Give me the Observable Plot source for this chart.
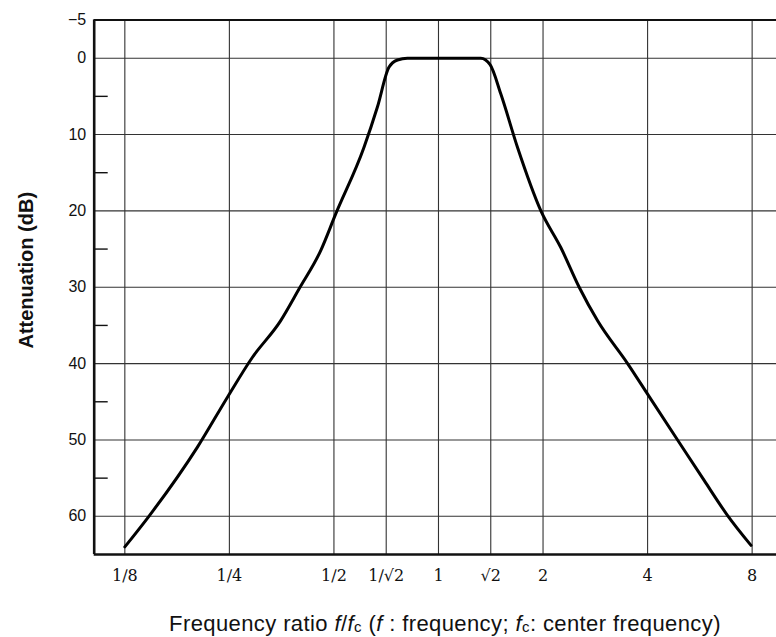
<!DOCTYPE html>
<html>
<head>
<meta charset="utf-8">
<script src="https://cdn.jsdelivr.net/npm/d3@7"></script>
<script src="https://cdn.jsdelivr.net/npm/@observablehq/plot@0.6"></script>
<style>
  html, body { margin: 0; padding: 0; background: #fff; }
  #xtitle {
    font-family: "Liberation Sans", Arial, sans-serif;
    font-size: 22px;
    letter-spacing: 0.4px;
    color: #111;
    line-height: 48px;
    height: 48px;
    padding-left: 114px;
    text-align: center;
    width: 662px;
    white-space: nowrap;
  }
  #xtitle sub { font-size: 15px; vertical-align: baseline; position: relative; top: 1px; }
</style>
</head>
<body>
<div id="chart"></div>
<div id="xtitle">Frequency ratio <i>f</i>/<i>f</i><sub>c</sub> (<i>f</i> : frequency; <i>f</i><sub>c</sub>: center frequency)</div>
<script>
// Frequency ratio f/fc and attenuation (dB)
const freq = [0.125, 0.1466, 0.2025, 0.2468, 0.291, 0.351, 0.397, 0.458, 0.506, 0.610, 0.667, 0.720, 0.762, 0.814,
              1.0, 1.324, 1.408, 1.512, 1.689, 1.972, 2.25, 2.542, 2.872, 3.504, 4.0, 4.88, 5.82, 6.80, 7.94];
const atten = [64.0, 60.0, 50.9, 44.4, 39.2, 34.4, 30.2, 25.2, 20.4, 11.7, 6.4, 1.2, 0.24, 0,
               0, 0, 0.85, 4.7, 11.7, 20.0, 24.8, 30.0, 34.4, 40.0, 44.0, 50.0, 55.3, 59.9, 63.8];

// Axis ticks
const xTicks = [1/8, 1/4, 1/2, Math.SQRT1_2, 1, Math.SQRT2, 2, 4, 8];
const xTickLabels = ["1∕8", "1∕4", "1∕2", "1∕√2", "1", "√2", "2", "4", "8"];
const yMajor = [-5, 0, 10, 20, 30, 40, 50, 60];
const yGrid = [0, 10, 20, 30, 40, 50, 60];
const yMinor = [5, 15, 25, 35, 45, 55];

const data = freq.map((f, i) => ({f, a: atten[i]}));

const W = 776, H = 600;
const xDomain = [Math.pow(2, -3.293), Math.pow(2, 3.233)];
const yDomain = [-5, 65];
const xLabelOf = d => xTickLabels[xTicks.findIndex(t => Math.abs(t - d) < 1e-9)];
const yLabelOf = d => d < 0 ? "−" + (-d) : String(d);

const plot = Plot.plot({
  width: W,
  height: H,
  marginLeft: 93.7,
  marginRight: 0,
  marginTop: 19.5,
  marginBottom: H - 554,
  style: {background: "#fff", color: "#111"},
  x: {type: "log", base: 2, domain: xDomain, axis: null},
  y: {domain: yDomain, reverse: true, axis: null},
  marks: [
    Plot.ruleX(xTicks, {stroke: "#333", strokeWidth: 1.1}),
    Plot.ruleY(yGrid, {stroke: "#333", strokeWidth: 1.1}),
    Plot.axisY(yMinor, {tickSize: -14, text: null, label: null, stroke: "#111", strokeWidth: 1.4}),
    Plot.text(yMajor, {
      y: d => d, text: yLabelOf, frameAnchor: "left", textAnchor: "end", dx: -8,
      fontSize: 16, fontFamily: "'Liberation Sans', Arial, sans-serif", fill: "#111"
    }),
    Plot.text(xTicks, {
      x: d => d, text: xLabelOf, frameAnchor: "bottom", lineAnchor: "middle", dy: 21,
      fontSize: 16, fontFamily: "'DejaVu Serif', 'Liberation Serif', serif", fill: "#111"
    }),
    Plot.ruleX([xDomain[0]], {stroke: "#111", strokeWidth: 2.6}),
    Plot.ruleY([yDomain[0]], {stroke: "#111", strokeWidth: 2.2}),
    Plot.ruleY([yDomain[1]], {stroke: "#111", strokeWidth: 2.6}),
    Plot.line(data, {x: "f", y: "a", stroke: "#000", strokeWidth: 3, curve: "monotone-x"}),
    Plot.text(["Attenuation (dB)"], {
      frameAnchor: "left", textAnchor: "middle", rotate: -90, dx: -68, dy: -17,
      fontSize: 20, fontWeight: "bold", fontFamily: "'Liberation Sans', Arial, sans-serif", fill: "#111"
    })
  ]
});
document.getElementById("chart").appendChild(plot);
</script>
</body>
</html>
